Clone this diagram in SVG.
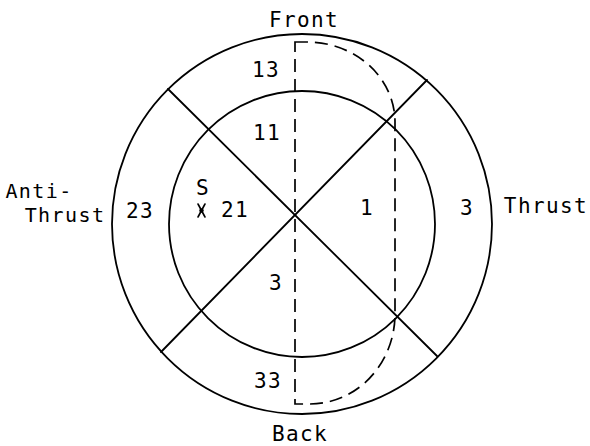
<svg xmlns="http://www.w3.org/2000/svg" width="590" height="446" viewBox="0 0 590 446">
<style>
.ln{fill:none;stroke:#000;stroke-width:1.8;stroke-linecap:round}
.ds{fill:none;stroke:#000;stroke-width:1.7;stroke-dasharray:13 7}
text{font-family:"DejaVu Sans Mono","Liberation Mono",monospace;font-size:21px;fill:#000;text-anchor:middle;letter-spacing:1.4px}
.sm{font-size:20px}
</style>
<rect width="590" height="446" fill="#fff"/>
<g id="outer-circle"><circle class="ln" cx="302" cy="224" r="190"/></g>
<g id="inner-circle"><circle class="ln" cx="302" cy="224" r="133"/></g>
<g id="connectors">
<line class="ln" x1="168" y1="89" x2="437" y2="356"/>
<line class="ln" x1="427" y1="80" x2="161" y2="352"/>
<path class="ds" d="M295 42 L307 42 A88 80 0 0 1 395 122 L395 314 A85 90 0 0 1 310 404 L295 404 Z"/>
</g>
<g id="labels">
<text x="304" y="27">Front</text>
<text x="266" y="77">13</text>
<text x="267" y="140">11</text>
<text x="203" y="195">S</text>
<g id="marker">
<line class="ln" x1="198" y1="204" x2="205" y2="217" style="stroke-width:1.6"/>
<line class="ln" x1="205" y1="204" x2="198" y2="217" style="stroke-width:1.6"/>
<circle cx="201.5" cy="210.5" r="2.2" fill="#000"/>
</g>
<text x="235" y="217">21</text>
<text x="140" y="218">23</text>
<text class="sm" x="39" y="198">Anti-</text>
<text class="sm" x="65" y="222">Thrust</text>
<text x="367" y="215">1</text>
<text x="467" y="215">3</text>
<text x="546" y="213">Thrust</text>
<text x="276" y="290">3</text>
<text x="268" y="388">33</text>
<text x="300" y="441">Back</text>
</g>
</svg>
